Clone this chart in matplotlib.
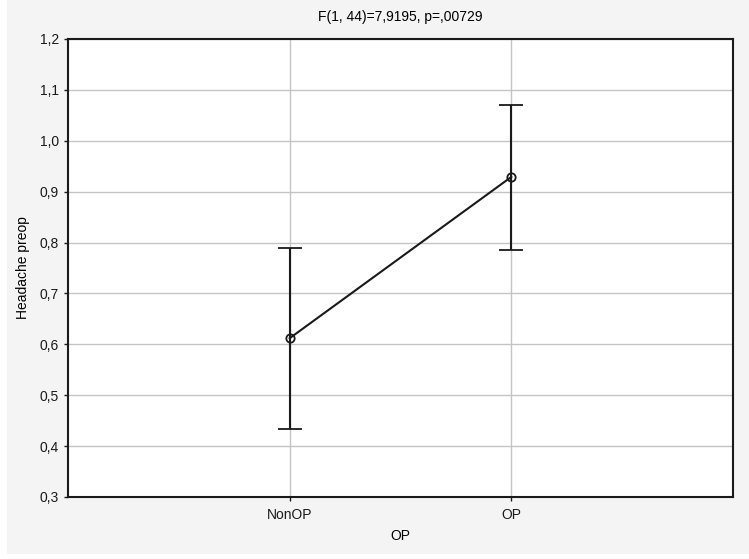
import matplotlib
matplotlib.use("Agg")
import matplotlib.pyplot as plt
from matplotlib.patches import Rectangle
from matplotlib.ticker import FuncFormatter

groups = ["NonOP", "OP"]
means = [0.612, 0.929]
upper = [0.789, 1.070]
lower = [0.434, 0.785]
yticks = [0.3, 0.4, 0.5, 0.6, 0.7, 0.8, 0.9, 1.0, 1.1, 1.2]

plt.rcParams["font.family"] = ["Liberation Sans", "DejaVu Sans"]

fig = plt.figure(figsize=(7.49, 5.59), dpi=100, facecolor="white")
# gray panel behind the chart
fig.patches.append(Rectangle((7 / 749, 5 / 559), 1, 1, transform=fig.transFigure,
                             facecolor="#f4f4f4", edgecolor="none", zorder=-10))
ax = fig.add_axes([68 / 749, 62 / 559, 665 / 749, 458 / 559])
ax.set_facecolor("white")

xs = [1, 2]
yerr = [[m - l for m, l in zip(means, lower)], [u - m for m, u in zip(means, upper)]]
ax.errorbar(xs, means, yerr=yerr, color="#1a1a1a", lw=1.5, capsize=8.5, capthick=1.5,
            marker="o", markersize=6, markerfacecolor="none", markeredgecolor="#1a1a1a",
            markeredgewidth=1.3, zorder=3)

ax.set_xlim(0, 3)
ax.set_ylim(0.3, 1.2)
ax.set_xticks(xs)
ax.set_xticklabels(groups)
ax.set_yticks(yticks)
ax.yaxis.set_major_formatter(FuncFormatter(lambda v, p: f"{v:.1f}".replace(".", ",")))
ax.grid(True, color="#c4c4c4", lw=1)
ax.set_axisbelow(True)
for s in ax.spines.values():
    s.set_linewidth(1.5)
    s.set_color("#1a1a1a")
ax.tick_params(axis="both", length=3, width=1, labelsize=10, colors="#1a1a1a")
ax.tick_params(axis="x", pad=5)

ax.set_title("F(1, 44)=7,9195, p=,00729", fontsize=10, pad=13)
ax.set_xlabel("OP", fontsize=10, labelpad=5)
ax.set_ylabel("Headache preop", fontsize=10, labelpad=7)

fig.savefig("out.png", dpi=100)
